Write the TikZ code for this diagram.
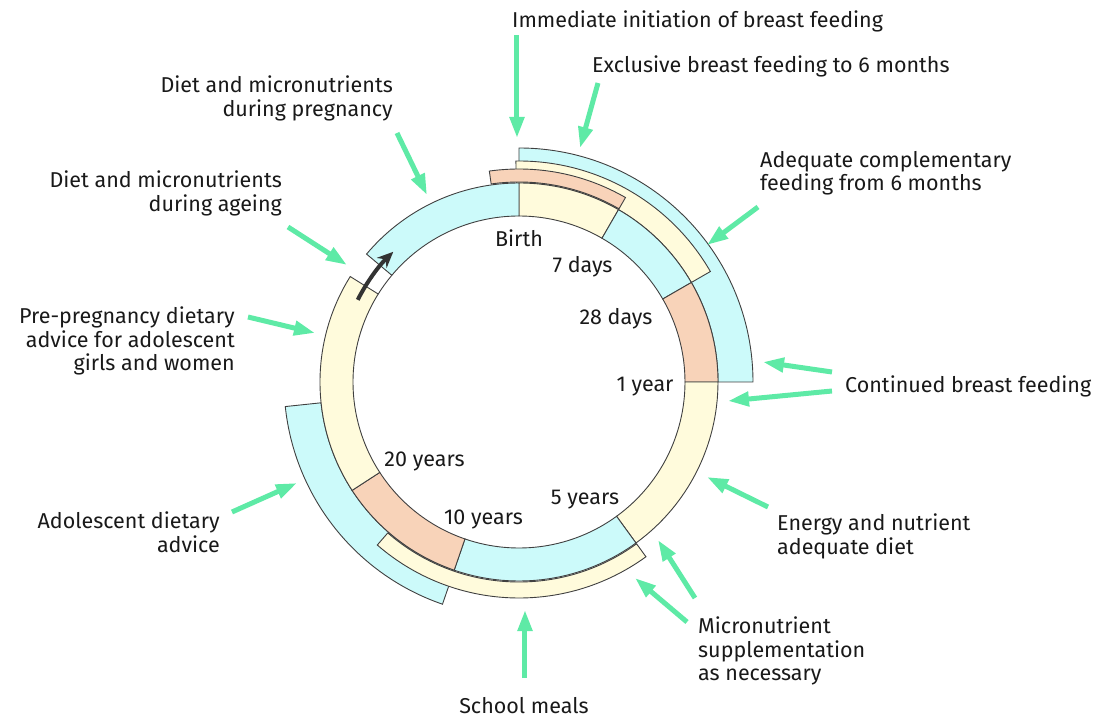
\documentclass[tikz,border=0pt]{standalone}
\usepackage{fontspec}
\setmainfont{Fira Sans}
\usetikzlibrary{arrows.meta}

\definecolor{giallo}{HTML}{FFFBDC}
\definecolor{azzurro}{HTML}{CCFAFA}
\definecolor{arancio}{HTML}{F8D3B9}
\definecolor{verde}{HTML}{5EEAA6}

% settore di corona: colore, angolo iniziale, angolo finale, raggio interno, raggio esterno
\newcommand{\settore}[5]{%
  \filldraw[fill=#1, draw=black!75, line width=0.9pt, line join=miter]
    (#2:#4) arc[start angle=#2, end angle=#3, radius=#4]
    -- (#3:#5) arc[start angle=#3, end angle=#2, radius=#5] -- cycle;}

\begin{document}
\begin{tikzpicture}[
    x=1pt, y=1pt,
    freccia/.style={-{Triangle[length=21pt, width=14pt]}, draw=verde, line width=5pt},
    ritorno/.style={-{Stealth[length=16pt, width=14pt]}, draw=black!80, line width=4pt},
    etichetta/.style={font=\fontsize{21.5}{23.5}\selectfont, inner sep=0pt, text=black!90},
    eta/.style={font=\fontsize{21.5}{23.5}\selectfont, inner sep=0pt, anchor=base, text=black!90}
]
    \useasboundingbox (-519,-335) rectangle (590,382);

    % 1. Fasce esterne (interventi)
    \settore{azzurro}{0}{90}{199}{234}
    \settore{giallo}{30}{90.8}{199}{221}
    \settore{arancio}{60}{98}{200}{213}
    \settore{azzurro}{186}{251}{199}{235}
    \settore{giallo}{229}{306}{200}{216}

    % 2. Corona principale (ciclo di vita)
    \settore{giallo}{60}{90}{166}{199}
    \settore{azzurro}{30}{60}{166}{199}
    \settore{arancio}{0}{30}{166}{199}
    \settore{giallo}{-54}{0}{166}{199}
    \settore{azzurro}{-109}{-54}{166}{199}
    \settore{arancio}{-147}{-109}{166}{199}
    \settore{giallo}{148}{213}{166}{199}
    \settore{azzurro}{90}{140}{166}{199}
    \draw[black!75, line width=0.9pt] (140:166) arc[start angle=140, end angle=148, radius=166];

    % Freccia di ritorno del ciclo
    \draw[ritorno] (153:181) arc[start angle=153, end angle=134, radius=181];

    % 3. Tappe del ciclo
    \node[eta] (nascita) at (0,135)       {Birth};
    \node[eta] (g7)      at (63.5,109)    {7 days};
    \node[eta] (g28)     at (97,57)       {28 days};
    \node[eta] (a1)      at (126,-10)     {1 year};
    \node[eta] (a5)      at (66,-123)     {5 years};
    \node[eta] (a10)     at (-35.5,-143)  {10 years};
    \node[eta] (a20)     at (-94.5,-85)   {20 years};

    % 4. Etichette degli interventi
    \node[etichetta, anchor=base west] (imm)    at (-7,354)  {Immediate initiation of breast feeding};
    \node[etichetta, anchor=base west] (escl)   at (73,309)  {Exclusive breast feeding to 6 months};
    \node[etichetta, anchor=north west, align=left] (compl) at (241,231)
        {Adequate complementary\\feeding from 6 months};
    \node[etichetta, anchor=base west] (cont)   at (326,-11) {Continued breast feeding};
    \node[etichetta, anchor=north west, align=left] (energ) at (258,-132)
        {Energy and nutrient\\adequate diet};
    \node[etichetta, anchor=north west, align=left] (micro) at (179,-235)
        {Micronutrient\\supplementation\\as necessary};
    \node[etichetta, anchor=base] (scuola) at (5,-331) {School meals};
    \node[etichetta, anchor=north east, align=right] (adol) at (-299,-130)
        {Adolescent dietary\\advice};
    \node[etichetta, anchor=north east, align=right] (prepr) at (-284,75)
        {Pre-pregnancy dietary\\advice for adolescent\\girls and women};
    \node[etichetta, anchor=north east, align=right] (anz) at (-237,211)
        {Diet and micronutrients\\during ageing};
    \node[etichetta, anchor=north east, align=right] (grav) at (-126,306)
        {Diet and micronutrients\\during pregnancy};

    % 5. Frecce verdi (coda -> punta)
    \coordinate (imm-c)   at (-2,347);   \coordinate (imm-p)   at (-2,244);
    \coordinate (escl-c)  at (79,299);   \coordinate (escl-p)  at (61,234);
    \coordinate (compl-c) at (239,175);  \coordinate (compl-p) at (188,137);
    \coordinate (contA-c) at (313,10);   \coordinate (contA-p) at (244,20);
    \coordinate (contB-c) at (313,-9);   \coordinate (contB-p) at (209,-19);
    \coordinate (energ-c) at (249,-125); \coordinate (energ-p) at (188,-95);
    \coordinate (micA-c)  at (176,-216); \coordinate (micA-p)  at (139,-158);
    \coordinate (micB-c)  at (168,-240); \coordinate (micB-p)  at (116,-196);
    \coordinate (scu-c)   at (6,-296);   \coordinate (scu-p)   at (6,-228);
    \coordinate (adol-c)  at (-287,-130);\coordinate (adol-p)  at (-222,-101);
    \coordinate (prepr-c) at (-271,65);  \coordinate (prepr-p) at (-204,49);
    \coordinate (anz-c)   at (-231,155); \coordinate (anz-p)   at (-172,117);
    \coordinate (grav-c)  at (-122,249); \coordinate (grav-p)  at (-92,187);

    \draw[freccia] (imm-c)   -- (imm-p);
    \draw[freccia] (escl-c)  -- (escl-p);
    \draw[freccia] (compl-c) -- (compl-p);
    \draw[freccia] (contA-c) -- (contA-p);
    \draw[freccia] (contB-c) -- (contB-p);
    \draw[freccia] (energ-c) -- (energ-p);
    \draw[freccia] (micA-c)  -- (micA-p);
    \draw[freccia] (micB-c)  -- (micB-p);
    \draw[freccia] (scu-c)   -- (scu-p);
    \draw[freccia] (adol-c)  -- (adol-p);
    \draw[freccia] (prepr-c) -- (prepr-p);
    \draw[freccia] (anz-c)   -- (anz-p);
    \draw[freccia] (grav-c)  -- (grav-p);

\end{tikzpicture}
\end{document}
